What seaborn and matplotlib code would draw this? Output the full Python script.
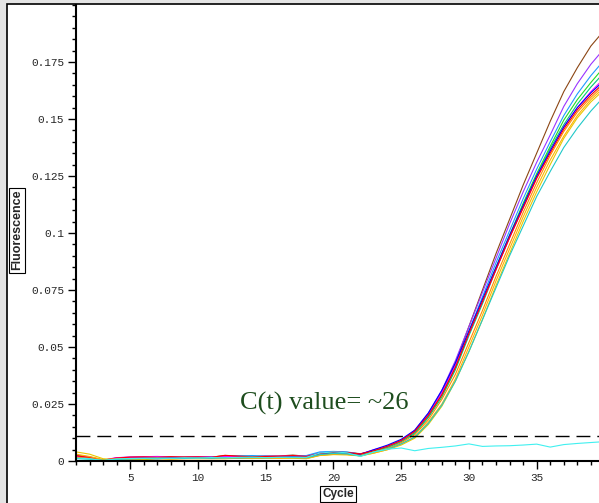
import matplotlib
matplotlib.use("Agg")
import matplotlib.pyplot as plt
import numpy as np
import pandas as pd
import seaborn as sns
from matplotlib.ticker import MultipleLocator, FixedLocator, FixedFormatter
from matplotlib.patches import Rectangle

cycles = list(range(1, 41))

brown = [0.0025, 0.0018, 0.0004, 0.0012, 0.0015, 0.0016, 0.0017, 0.0015, 0.0018, 0.0019,
         0.0017, 0.0024, 0.0022, 0.0020, 0.0021, 0.0022, 0.0026, 0.0021, 0.0034, 0.0040,
         0.0038, 0.0032, 0.0045, 0.0065, 0.0090, 0.0130, 0.0200, 0.0300, 0.0430, 0.0590,
         0.0750, 0.0910, 0.1060, 0.1210, 0.1350, 0.1490, 0.1620, 0.1725, 0.1820, 0.1890]
purple = [0.0022, 0.0016, 0.0003, 0.0014, 0.0018, 0.0019, 0.0020, 0.0018, 0.0016, 0.0017,
          0.0019, 0.0020, 0.0021, 0.0019, 0.0022, 0.0020, 0.0023, 0.0022, 0.0036, 0.0041,
          0.0037, 0.0031, 0.0045, 0.0065, 0.0090, 0.0135, 0.0210, 0.0310, 0.0440, 0.0590,
          0.0740, 0.0890, 0.1040, 0.1180, 0.1310, 0.1430, 0.1555, 0.1655, 0.1740, 0.1810]
skyblue = [0.0018, 0.0014, 0.0004, 0.0010, 0.0014, 0.0015, 0.0016, 0.0017, 0.0015, 0.0016,
           0.0018, 0.0019, 0.0022, 0.0024, 0.0021, 0.0020, 0.0022, 0.0024, 0.0040, 0.0042,
           0.0040, 0.0030, 0.0045, 0.0062, 0.0088, 0.0130, 0.0200, 0.0300, 0.0420, 0.0570,
           0.0720, 0.0870, 0.1010, 0.1150, 0.1280, 0.1400, 0.1515, 0.1610, 0.1690, 0.1760]
green = [0.0012, 0.0010, 0.0002, 0.0008, 0.0010, 0.0005, 0.0012, 0.0014, 0.0013, 0.0015,
         0.0014, 0.0016, 0.0018, 0.0017, 0.0016, 0.0018, 0.0019, 0.0018, 0.0030, 0.0036,
         0.0034, 0.0028, 0.0045, 0.0060, 0.0085, 0.0125, 0.0195, 0.0290, 0.0410, 0.0560,
         0.0700, 0.0850, 0.0990, 0.1130, 0.1260, 0.1380, 0.1495, 0.1585, 0.1660, 0.1730]
seagreen = [0.0015, 0.0012, 0.0003, 0.0009, 0.0012, 0.0013, 0.0014, 0.0013, 0.0015, 0.0014,
            0.0016, 0.0017, 0.0016, 0.0018, 0.0017, 0.0019, 0.0020, 0.0019, 0.0031, 0.0037,
            0.0035, 0.0029, 0.0045, 0.0060, 0.0085, 0.0120, 0.0190, 0.0280, 0.0400, 0.0550,
            0.0690, 0.0840, 0.0980, 0.1120, 0.1250, 0.1370, 0.1475, 0.1565, 0.1640, 0.1705]
magenta = [0.0020, 0.0017, 0.0004, 0.0015, 0.0016, 0.0018, 0.0019, 0.0017, 0.0016, 0.0018,
           0.0017, 0.0019, 0.0020, 0.0018, 0.0019, 0.0021, 0.0022, 0.0020, 0.0033, 0.0039,
           0.0036, 0.0030, 0.0050, 0.0065, 0.0090, 0.0130, 0.0200, 0.0300, 0.0420, 0.0560,
           0.0700, 0.0840, 0.0980, 0.1110, 0.1240, 0.1360, 0.1465, 0.1550, 0.1620, 0.1680]
blue = [0.0014, 0.0011, 0.0002, 0.0009, 0.0011, 0.0012, 0.0010, 0.0013, 0.0014, 0.0012,
        0.0015, 0.0014, 0.0016, 0.0015, 0.0017, 0.0016, 0.0018, 0.0017, 0.0032, 0.0038,
        0.0035, 0.0030, 0.0050, 0.0070, 0.0095, 0.0135, 0.0210, 0.0310, 0.0430, 0.0570,
        0.0710, 0.0850, 0.0990, 0.1120, 0.1250, 0.1360, 0.1465, 0.1550, 0.1615, 0.1670]
red = [0.0023, 0.0015, 0.0003, 0.0013, 0.0017, 0.0018, 0.0016, 0.0019, 0.0017, 0.0018,
       0.0016, 0.0025, 0.0021, 0.0019, 0.0020, 0.0021, 0.0024, 0.0020, 0.0033, 0.0039,
       0.0037, 0.0031, 0.0045, 0.0065, 0.0090, 0.0130, 0.0200, 0.0290, 0.0410, 0.0560,
       0.0700, 0.0840, 0.0980, 0.1110, 0.1240, 0.1350, 0.1455, 0.1540, 0.1605, 0.1660]
orange = [0.0016, 0.0012, 0.0003, 0.0010, 0.0008, 0.0010, 0.0011, 0.0009, 0.0010, 0.0011,
          0.0010, 0.0011, 0.0012, 0.0011, 0.0013, 0.0012, 0.0014, 0.0011, 0.0026, 0.0030,
          0.0029, 0.0024, 0.0040, 0.0055, 0.0080, 0.0115, 0.0180, 0.0270, 0.0380, 0.0520,
          0.0660, 0.0810, 0.0950, 0.1090, 0.1220, 0.1340, 0.1445, 0.1530, 0.1595, 0.1650]
gold = [0.0040, 0.0030, 0.0010, 0.0006, 0.0009, 0.0008, 0.0010, 0.0009, 0.0011, 0.0010,
        0.0011, 0.0010, 0.0012, 0.0011, 0.0012, 0.0013, 0.0012, 0.0010, 0.0024, 0.0028,
        0.0027, 0.0022, 0.0035, 0.0050, 0.0070, 0.0100, 0.0160, 0.0240, 0.0350, 0.0480,
        0.0620, 0.0770, 0.0910, 0.1050, 0.1180, 0.1300, 0.1415, 0.1505, 0.1575, 0.1630]
amber = [0.0030, 0.0020, 0.0006, 0.0007, 0.0010, 0.0009, 0.0011, 0.0010, 0.0012, 0.0011,
         0.0012, 0.0011, 0.0013, 0.0012, 0.0014, 0.0013, 0.0015, 0.0012, 0.0025, 0.0029,
         0.0028, 0.0023, 0.0035, 0.0050, 0.0075, 0.0105, 0.0170, 0.0250, 0.0360, 0.0500,
         0.0640, 0.0790, 0.0930, 0.1070, 0.1200, 0.1320, 0.1425, 0.1515, 0.1585, 0.1640]
turquoise = [0.0010, 0.0008, 0.0003, 0.0007, 0.0009, 0.0011, 0.0010, 0.0012, 0.0011, 0.0013,
             0.0012, 0.0014, 0.0013, 0.0015, 0.0014, 0.0016, 0.0015, 0.0014, 0.0028, 0.0033,
             0.0031, 0.0022, 0.0040, 0.0052, 0.0075, 0.0105, 0.0165, 0.0245, 0.0350, 0.0480,
             0.0620, 0.0760, 0.0900, 0.1030, 0.1160, 0.1270, 0.1375, 0.1460, 0.1535, 0.1600]
ntc = [0.0013, 0.0010, 0.0002, 0.0009, 0.0011, 0.0012, 0.0013, 0.0012, 0.0014, 0.0013,
       0.0015, 0.0014, 0.0016, 0.0017, 0.0015, 0.0016, 0.0017, 0.0016, 0.0035, 0.0040,
       0.0036, 0.0020, 0.0040, 0.0052, 0.0057, 0.0045, 0.0055, 0.0060, 0.0066, 0.0075,
       0.0064, 0.0066, 0.0067, 0.0070, 0.0074, 0.0061, 0.0072, 0.0077, 0.0081, 0.0085]

series = {"brown": brown, "purple": purple, "skyblue": skyblue, "green": green,
          "seagreen": seagreen, "magenta": magenta, "blue": blue, "red": red,
          "orange": orange, "gold": gold, "amber": amber, "turquoise": turquoise,
          "ntc": ntc}
palette = {"brown": "#8b4513", "purple": "#9933ff", "skyblue": "#1e9bff",
           "green": "#22dd22", "seagreen": "#00c878", "magenta": "#ff00ff",
           "blue": "#0000ff", "red": "#ff0000", "orange": "#ff8c00",
           "gold": "#e8c800", "amber": "#ffb400", "turquoise": "#20c8c8",
           "ntc": "#40f0f0"}

threshold = 0.011
y_ticks = [0, 0.025, 0.05, 0.075, 0.1, 0.125, 0.15, 0.175]
y_labels = ["0", "0.025", "0.05", "0.075", "0.1", "0.125", "0.15", "0.175"]
x_ticks = [5, 10, 15, 20, 25, 30, 35, 40]
x_labels = ["5", "10", "15", "20", "25", "30", "35", "40"]

df = pd.DataFrame([(name, c, v) for name, vals in series.items()
                   for c, v in zip(cycles, vals)],
                  columns=["sample", "Cycle", "Fluorescence"])

sns.set_style("ticks")
W, H = 599, 503
fig = plt.figure(figsize=(W / 100, H / 100), dpi=100)
fig.patch.set_facecolor("#e4e4e4")
fig.add_artist(Rectangle((7 / W, -0.05), 1.2, 1.05 - 4 / H, transform=fig.transFigure,
                         facecolor="white", edgecolor="black", lw=1.2, zorder=0))

ax = fig.add_axes([76 / W, 42 / H, 523 / W, 456 / H])
ax.set_facecolor("none")
sns.lineplot(data=df, x="Cycle", y="Fluorescence", hue="sample",
             hue_order=list(series.keys()), palette=palette, legend=False,
             lw=0.8, ax=ax, estimator=None, sort=False)

ax.axhline(threshold, color="black", lw=1.0, dashes=(10, 5), zorder=5)
ax.text(13.1, 0.0224, "C(t) value= ~26", family="Liberation Serif", fontsize=19,
        color="#1e4d1e", va="baseline", ha="left")

ax.set_xlim(1, 39.6)
ax.set_ylim(0, 0.2)
for s in ["top", "right"]:
    ax.spines[s].set_visible(False)
for s in ["left", "bottom"]:
    ax.spines[s].set_linewidth(1.5)
    ax.spines[s].set_color("black")

ax.xaxis.set_major_locator(FixedLocator(x_ticks))
ax.xaxis.set_major_formatter(FixedFormatter(x_labels))
ax.xaxis.set_minor_locator(MultipleLocator(1))
ax.yaxis.set_major_locator(FixedLocator(y_ticks))
ax.yaxis.set_major_formatter(FixedFormatter(y_labels))
ax.yaxis.set_minor_locator(MultipleLocator(0.005))
ax.tick_params(which="major", length=6, width=1.0, direction="out", pad=2.5,
               labelsize=8, color="black")
ax.tick_params(which="minor", length=3, width=1.0, direction="out", color="black")
for lab in ax.get_xticklabels() + ax.get_yticklabels():
    lab.set_family("Liberation Mono")
ax.set_xlabel("")
ax.set_ylabel("")

box = dict(boxstyle="square,pad=0.18", fc="white", ec="black", lw=0.8)
fig.text(17 / W, 1 - 230 / H, "Fluorescence", rotation=90, ha="center", va="center",
         fontsize=9, fontweight="bold", family="Liberation Sans", bbox=box)
fig.text(338 / W, 1 - 494 / H, "Cycle", ha="center", va="center",
         fontsize=8.5, fontweight="bold", family="Liberation Sans", bbox=box)

fig.savefig("out.png", dpi=100)
